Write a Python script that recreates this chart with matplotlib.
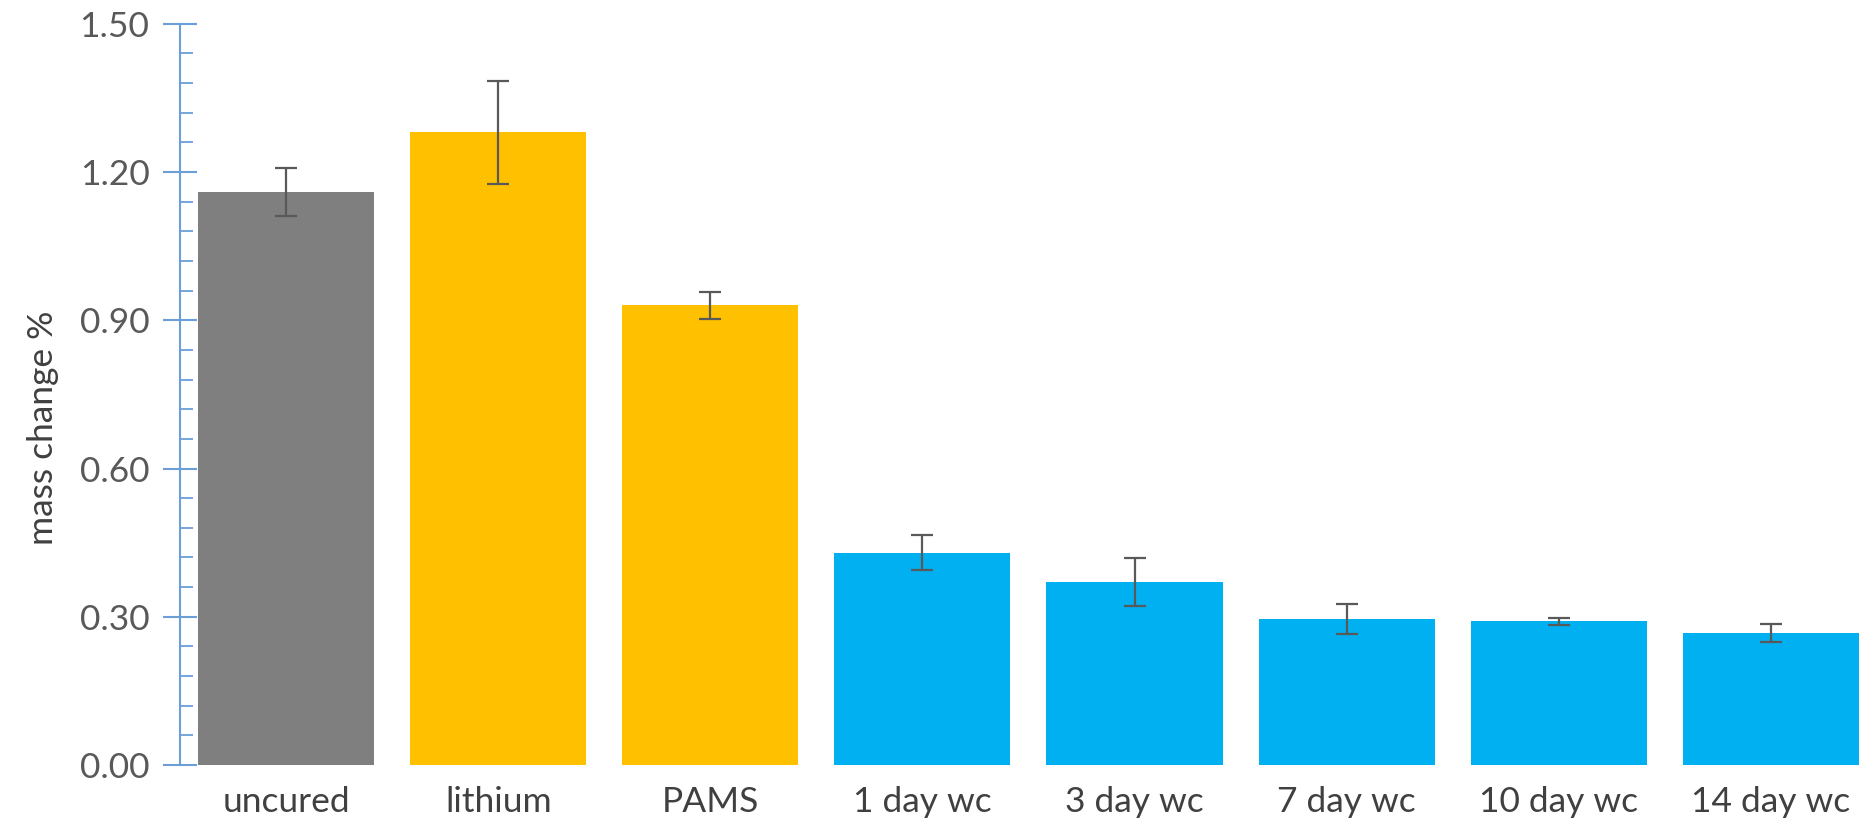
import numpy as np
import matplotlib
matplotlib.use("Agg")
import matplotlib.pyplot as plt
from matplotlib.ticker import MultipleLocator

# data
categories = ["uncured", "lithium", "PAMS", "1 day wc", "3 day wc",
              "7 day wc", "10 day wc", "14 day wc"]
mass_change = [1.16, 1.28, 0.93, 0.43, 0.37, 0.295, 0.291, 0.267]
errors = [0.048, 0.104, 0.028, 0.035, 0.048, 0.030, 0.007, 0.018]
bar_colors = ["#7f7f7f", "#ffc000", "#ffc000", "#00b0f0", "#00b0f0",
              "#00b0f0", "#00b0f0", "#00b0f0"]

plt.rcParams['font.family'] = ['Lato', 'DejaVu Sans']

fig = plt.figure(figsize=(18.62, 8.23), dpi=100)
ax = fig.add_axes([0.0967, 0.0705, 0.9033, 0.9006])

x = np.arange(len(categories))
ax.bar(x, mass_change, width=0.83, color=bar_colors, zorder=2)
ax.errorbar(x, mass_change, yerr=errors, fmt='none', ecolor='#595959',
            elinewidth=1.6, capsize=8, capthick=1.6, zorder=3)

ax.set_xlim(-0.5, 7.43)
ax.set_ylim(0, 1.5)

# y axis like the excel style: blue spine, crossing majors, inner minors
ax.yaxis.set_major_locator(MultipleLocator(0.3))
ax.yaxis.set_minor_locator(MultipleLocator(0.06))
ax.set_yticklabels([f"{v:.2f}" for v in ax.get_yticks()])
ax.tick_params(axis='y', which='major', direction='inout', length=24,
               width=1.5, color='#6a9fd8', labelsize=25.5, labelcolor='#595959',
               pad=10)
ax.tick_params(axis='y', which='minor', direction='in', length=9,
               width=1.3, color='#6a9fd8')

ax.set_xticks(x)
ax.set_xticklabels(categories)
ax.tick_params(axis='x', length=0, labelsize=25.5, labelcolor='#404040', pad=15)

for side in ['top', 'right', 'bottom']:
    ax.spines[side].set_visible(False)
ax.spines['left'].set_color('#6a9fd8')
ax.spines['left'].set_linewidth(1.5)

ax.set_ylabel("mass change %", fontsize=25.5, color='#404040')
ax.yaxis.set_label_coords(-0.072, 0.455)

fig.savefig("out.png", dpi=100)
